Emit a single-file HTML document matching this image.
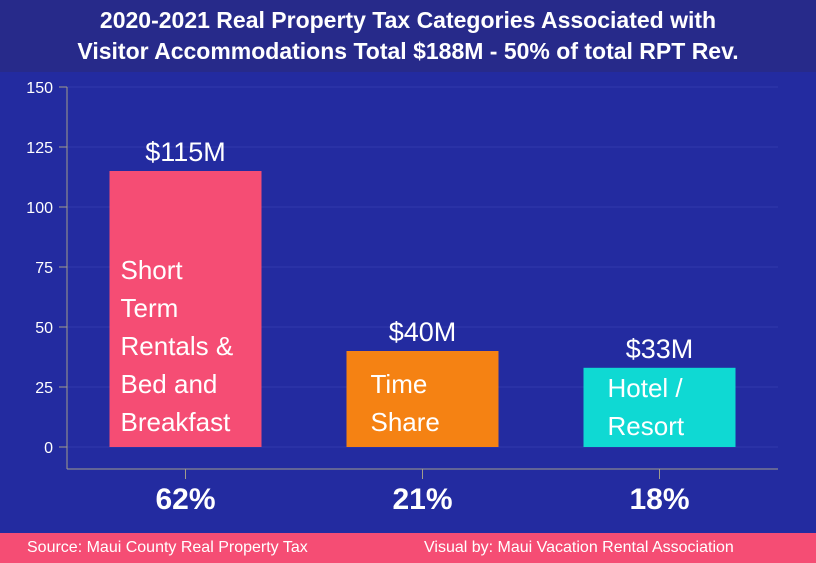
<!DOCTYPE html>
<html><head><meta charset="utf-8"><style>
html,body{margin:0;padding:0}
body{width:816px;height:563px;overflow:hidden;background:#232ba0;font-family:"Liberation Sans",sans-serif;position:relative}
#title{position:absolute;left:0;top:0;width:816px;height:72px;background:#272a8a;color:#fff;font-weight:bold;font-size:23px;text-align:center;line-height:31px;padding-top:5px;box-sizing:border-box;white-space:nowrap}
#footer{position:absolute;left:0;top:533px;width:816px;height:30px;background:#f54d74;color:#fff;font-size:16px;line-height:30px}
svg{position:absolute;left:0;top:0}
</style></head><body>
<div id="title">2020-2021 Real Property Tax Categories Associated with<br>Visitor Accommodations Total $188M - 50% of total RPT Rev.</div>
<svg id="chart" width="816" height="533"></svg>
<div id="footer">
<span style="position:absolute;left:27px">Source: Maui County Real Property Tax</span>
<span style="position:absolute;left:424px">Visual by: Maui Vacation Rental Association</span>
</div>
<script>
const categories=[["Short","Term","Rentals &","Bed and","Breakfast"],["Time","Share"],["Hotel /","Resort"]];
const values=[115,40,33];
const valueLabels=["$115M","$40M","$33M"];
const percents=["62%","21%","18%"];
const ticks=[0,25,50,75,100,125,150];
const colors=["#f54d74","#f58213","#0fd9d3"];
const svg=document.getElementById('chart');
const NS='http://www.w3.org/2000/svg';
const x0=67,x1=778,yZero=447,pxPer=2.4,bottom=469;
const band=(x1-x0)/values.length;
const y=v=>yZero-v*pxPer;
const xc=i=>x0+band*(i+0.5);
function mk(t,a,p){const e=document.createElementNS(NS,t);for(const k in a)e.setAttribute(k,a[k]);(p||svg).appendChild(e);return e;}
ticks.forEach(t=>{
 const g=mk('line',{x1:x0,x2:x1,y1:y(t),y2:y(t),stroke:'#3139ac','stroke-width':1});
 
 
 mk('line',{x1:x0-8,x2:x0,y1:y(t),y2:y(t),stroke:'#a09c8c'});
 const l=mk('text',{x:x0-14,y:y(t)+6,fill:'#fff','font-size':16,'text-anchor':'end'});
 l.textContent=t;
 
 
});
mk('line',{x1:x0,x2:x0,y1:y(150),y2:bottom,stroke:'#a09c8c'});
mk('line',{x1:x0,x2:x1,y1:bottom,y2:bottom,stroke:'#a09c8c'});
values.forEach((v,i)=>{
 const bw=152,bx=xc(i)-bw/2;
 const r=mk('rect',{x:bx,y:y(v),width:bw,height:v*pxPer,fill:colors[i]});
 
 
 const vl=mk('text',{x:xc(i),y:y(v)-10,fill:'#fff','font-size':27,'text-anchor':'middle'});
 vl.textContent=valueLabels[i];
 
 
 const lines=categories[i];
 const lh=38;
 const startY=yZero-16-(lines.length-1)*lh;
 lines.forEach((s,j)=>{
  const c=mk('text',{x:bx+11+(i?13:0),y:startY+j*lh-(i==2?-4:0),fill:'#fff','font-size':26});
  c.textContent=s;
  
  
 });
 mk('line',{x1:xc(i),x2:xc(i),y1:bottom,y2:bottom+10,stroke:'#a09c8c'});
 const p=mk('text',{x:xc(i),y:509,fill:'#fff','font-size':30,'font-weight':'bold','text-anchor':'middle'});
 p.textContent=percents[i];
 
 
});
</script>
</body></html>
